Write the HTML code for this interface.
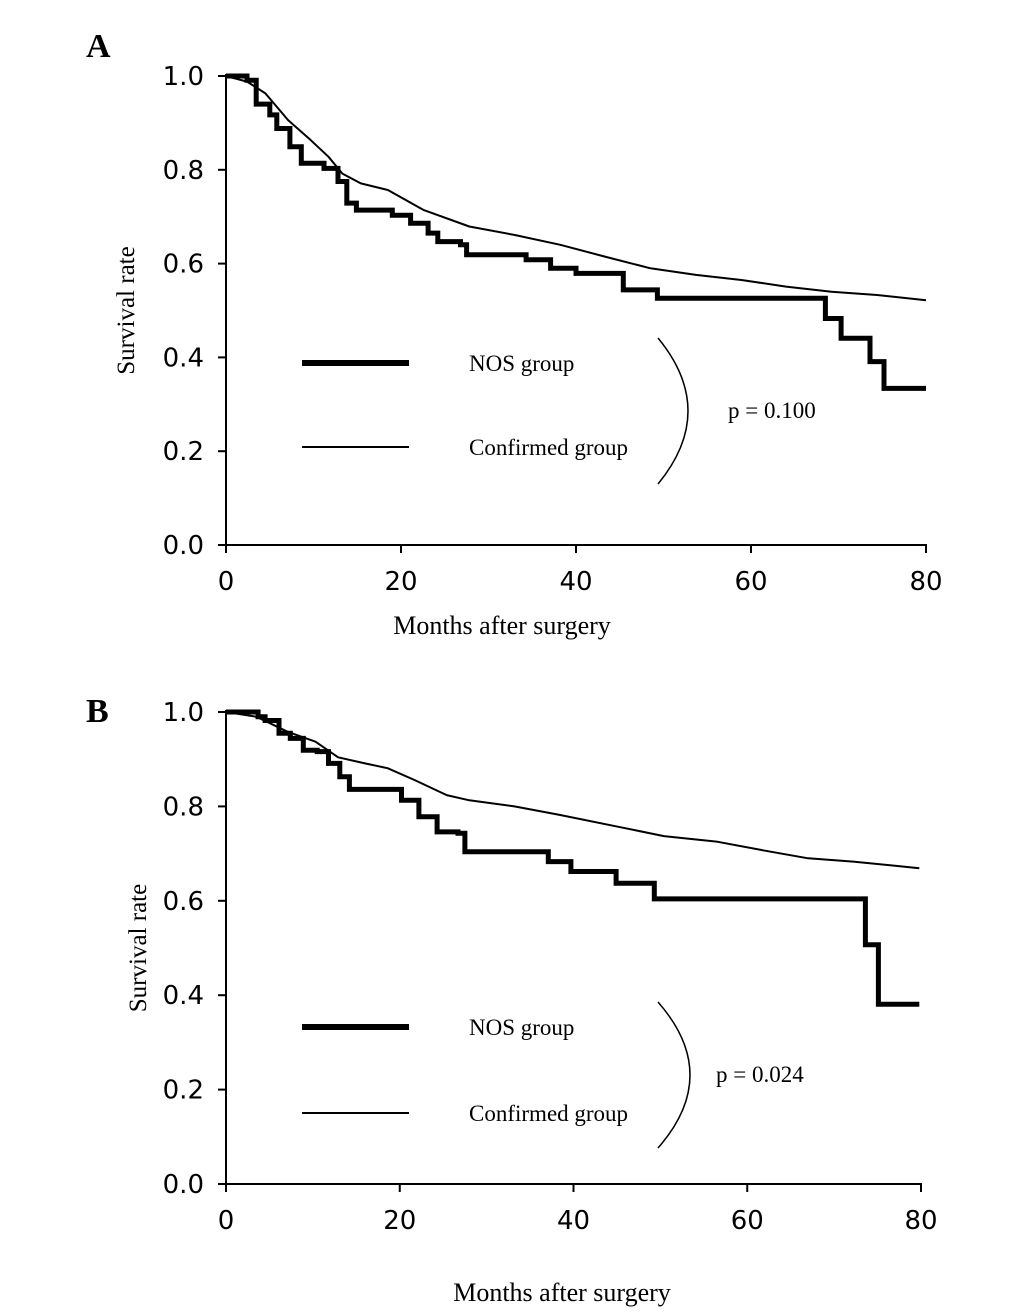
<!DOCTYPE html>
<html><head><meta charset="utf-8"><style>
body{margin:0;background:#fff}
svg{display:block}
.tk{font-family:"DejaVu Sans","Liberation Sans",sans-serif;font-size:26px}
.sf{font-family:"Liberation Serif",serif}
</style></head><body>
<svg id="chart" width="1033" height="1316" viewBox="0 0 1033 1316"></svg>
<script>
const xTicks=[0,20,40,60,80];
const yTicks=[0.0,0.2,0.4,0.6,0.8,1.0];
const yTickLabels=["0.0","0.2","0.4","0.6","0.8","1.0"];
const nosA_m=[0,2.4,3.45,5,5.8,7.3,8.6,11.2,12.8,13.8,14.9,18,19,21.1,23.1,24.2,26.8,27.5,33.8,34.3,37.1,40,44.6,45.4,49.3,68.2,68.5,70.3,73.6,75.2,80];
const nosA_v=[1,0.991,0.94,0.917,0.888,0.849,0.814,0.803,0.775,0.729,0.714,0.714,0.703,0.686,0.665,0.647,0.64,0.619,0.619,0.608,0.59,0.579,0.579,0.544,0.526,0.526,0.483,0.441,0.391,0.334,0.334];
const confA_m=[0,2.4,4.5,7.1,9.7,11.7,13.3,15.4,18.5,22.6,27.8,33,38.2,43.3,48.5,53.7,58.9,64,69.2,74.4,80];
const confA_v=[1,0.988,0.963,0.906,0.863,0.828,0.792,0.771,0.757,0.714,0.679,0.661,0.64,0.615,0.59,0.576,0.565,0.551,0.54,0.533,0.522];
const nosB_m=[0,3,3.7,4.5,5.8,6.1,7.4,8.9,10.5,11.8,13.1,14.2,19.1,20.2,22.2,24.3,26.7,27.5,36.8,37.1,39.7,44.7,44.9,49.1,49.3,73.6,73.6,74.9,75.1,79.8];
const nosB_v=[1,1,0.99,0.982,0.982,0.955,0.944,0.919,0.916,0.891,0.863,0.836,0.836,0.813,0.778,0.746,0.743,0.704,0.704,0.683,0.662,0.662,0.637,0.637,0.604,0.604,0.507,0.507,0.381,0.381];
const confB_m=[0,3.5,7.1,10.3,12.9,16,18.6,21.7,25.4,28,33.2,38.4,45.1,50.4,56.6,61.8,67,72.2,79.8];
const confB_v=[1,0.99,0.958,0.937,0.904,0.891,0.881,0.856,0.824,0.813,0.8,0.782,0.757,0.737,0.725,0.707,0.69,0.683,0.669];

const NS="http://www.w3.org/2000/svg";
const svg=document.getElementById('chart');
function mk(tag,attrs,parent){const e=document.createElementNS(NS,tag);for(const k in attrs)e.setAttribute(k,attrs[k]);(parent||svg).appendChild(e);return e;}

function panel(cfg){
  const g=mk('g',{});
  
  
  const sx=m=>cfg.x0+(m/80)*(cfg.x1-cfg.x0);
  const sy=v=>cfg.y0-v*(cfg.y0-cfg.y1);
  const ax=mk('path',{d:`M${cfg.x0},${cfg.y1-2} V${cfg.y0} H${cfg.x1+1}`,fill:'none',stroke:'#000','stroke-width':2},g);
  
  
  yTicks.forEach((v,i)=>{
    mk('line',{x1:cfg.x0-8,x2:cfg.x0,y1:sy(v),y2:sy(v),stroke:'#000','stroke-width':2},g);
    const t=mk('text',{x:cfg.x0-22,y:sy(v)+9,'text-anchor':'end',class:'tk'},g);
    t.textContent=yTickLabels[i];
    
    
  });
  xTicks.forEach(m=>{
    mk('line',{x1:sx(m),x2:sx(m),y1:cfg.y0,y2:cfg.y0+8,stroke:'#000','stroke-width':2},g);
    const t=mk('text',{x:sx(m),y:cfg.y0+45,'text-anchor':'middle',class:'tk'},g);
    t.textContent=String(m);
    
    
  });
  let d='';
  cfg.cm.forEach((m,i)=>{d+=(i?'L':'M')+sx(m).toFixed(1)+','+sy(cfg.cv[i]).toFixed(1);});
  const c=mk('path',{d:d,fill:'none',stroke:'#000','stroke-width':2,'stroke-linejoin':'round'},g);
  
  
  d='';
  cfg.nm.forEach((m,i)=>{
    if(i===0)d+='M'+sx(m).toFixed(1)+','+sy(cfg.nv[0]).toFixed(1);
    else d+='H'+sx(m).toFixed(1)+'V'+sy(cfg.nv[i]).toFixed(1);
  });
  const n=mk('path',{d:d,fill:'none',stroke:'#000','stroke-width':5,'stroke-linejoin':'miter'},g);
  
  
  const l1=mk('line',{x1:302,x2:409,y1:cfg.ly1,y2:cfg.ly1,stroke:'#000','stroke-width':6},g);
  
  
  const t1=mk('text',{x:469,y:cfg.ly1+8,class:'sf','font-size':23},g);t1.textContent='NOS group';
  
  
  const l2=mk('line',{x1:302,x2:409,y1:cfg.ly2,y2:cfg.ly2,stroke:'#000','stroke-width':2},g);
  
  
  const t2=mk('text',{x:469,y:cfg.ly2+8,class:'sf','font-size':23},g);t2.textContent='Confirmed group';
  
  
  const mid=(cfg.a1+cfg.a2)/2;
  const arc=mk('path',{d:`M658,${cfg.a1} Q${cfg.ax},${mid} 658,${cfg.a2}`,fill:'none',stroke:'#000','stroke-width':1.5},g);
  
  
  const p=mk('text',{x:cfg.px,y:mid+7,class:'sf','font-size':23},g);p.textContent=cfg.p;
  
  
  const pl=mk('text',{x:cfg.lx,y:cfg.ly,class:'sf','font-size':34,'font-weight':'bold'},g);pl.textContent=cfg.label;
  
  
  const yt=mk('text',{x:0,y:0,class:'sf','font-size':25,'text-anchor':'middle',transform:`translate(${cfg.ytx},${(cfg.y0+cfg.y1)/2}) rotate(-90)`},g);yt.textContent='Survival rate';
  
  
  const xt=mk('text',{x:cfg.xtx,y:cfg.xty,class:'sf','font-size':26,'text-anchor':'middle'},g);xt.textContent='Months after surgery';
  
  
}
panel({id:'panel-a',x0:226,x1:926,y0:545,y1:76,nm:nosA_m,nv:nosA_v,cm:confA_m,cv:confA_v,ly1:363,ly2:447,a1:338,a2:484,ax:718,px:728,p:'p = 0.100',label:'A',lx:86,ly:57,ytx:134,xtx:502,xty:634});
panel({id:'panel-b',x0:226,x1:921,y0:1184,y1:712,nm:nosB_m,nv:nosB_v,cm:confB_m,cv:confB_v,ly1:1027,ly2:1113,a1:1002,a2:1148,ax:722,px:716,p:'p = 0.024',label:'B',lx:86,ly:722,ytx:146,xtx:562,xty:1301});
</script>
</body></html>
